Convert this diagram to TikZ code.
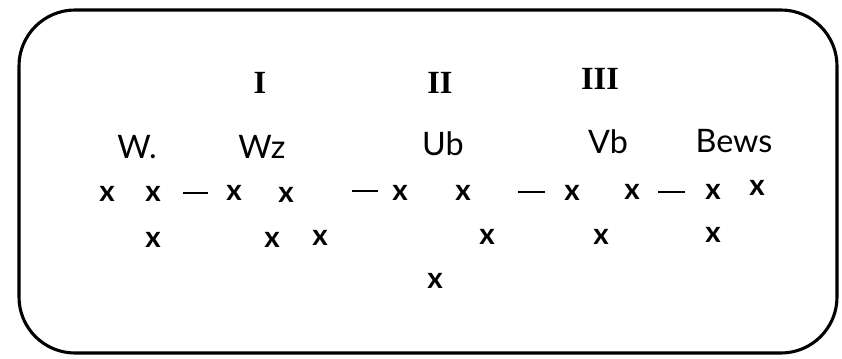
\documentclass[tikz,border=0pt]{standalone}
\usepackage{fontspec}
\setmainfont{Lato}
\newfontfamily\numeralfont{Liberation Serif}

\begin{document}
\begin{tikzpicture}[
    x=0.025cm,
    y=-0.025cm,
    frame/.style={
        line width=2.2pt,
        rounded corners=1.4cm
    },
    numeral/.style={
        font=\numeralfont\bfseries\fontsize{23}{26}\selectfont
    },
    groupname/.style={
        anchor=base,
        font=\fontsize{23}{27}\selectfont
    },
    cross/.style={
        inner sep=0pt,
        font=\bfseries\fontsize{21}{24}\selectfont
    },
    bar/.style={
        line width=1.7pt
    }
]

\useasboundingbox (0,0) rectangle (842,358);

% ==================================================
% Frame
% ==================================================

\draw[frame] (19,10) rectangle (837,353);

% ==================================================
% Numerals
% ==================================================

\node[numeral] (nI)   at (260,83) {I};
\node[numeral] (nII)  at (440,83) {II};
\node[numeral] (nIII) at (600,79) {III};

% ==================================================
% Group names
% ==================================================

\node[groupname] (gW)    at (137,158) {W.};
\node[groupname] (gWz)   at (262,158) {Wz};
\node[groupname] (gUb)   at (443,155) {Ub};
\node[groupname] (gVb)   at (608,153) {Vb};
\node[groupname] (gBews) at (734,152) {Bews};

% ==================================================
% Crosses
% ==================================================

% W
\node[cross] (w1) at (107,194) {x};
\node[cross] (w2) at (153,194) {x};
\node[cross] (w3) at (153,240) {x};

% Wz
\node[cross] (wz1) at (234,193) {x};
\node[cross] (wz2) at (286,195) {x};
\node[cross] (wz3) at (272,240) {x};
\node[cross] (wz4) at (320,238) {x};

% Ub
\node[cross] (ub1) at (400,193) {x};
\node[cross] (ub2) at (463,193) {x};
\node[cross] (ub3) at (487,237) {x};
\node[cross] (ub4) at (435,281) {x};

% Vb
\node[cross] (vb1) at (572,193) {x};
\node[cross] (vb2) at (632,192) {x};
\node[cross] (vb3) at (601,237) {x};

% Bews
\node[cross] (bw1) at (713,192) {x};
\node[cross] (bw2) at (757,188) {x};
\node[cross] (bw3) at (713,235) {x};

% ==================================================
% Dashes between the groups
% ==================================================

\coordinate (d1a) at (183,193);
\coordinate (d1b) at (208,193);
\coordinate (d2a) at (352,191);
\coordinate (d2b) at (378,191);
\coordinate (d3a) at (518,192);
\coordinate (d3b) at (545,192);
\coordinate (d4a) at (658,192);
\coordinate (d4b) at (685,192);

\draw[bar] (d1a) -- (d1b);
\draw[bar] (d2a) -- (d2b);
\draw[bar] (d3a) -- (d3b);
\draw[bar] (d4a) -- (d4b);

\end{tikzpicture}
\end{document}
